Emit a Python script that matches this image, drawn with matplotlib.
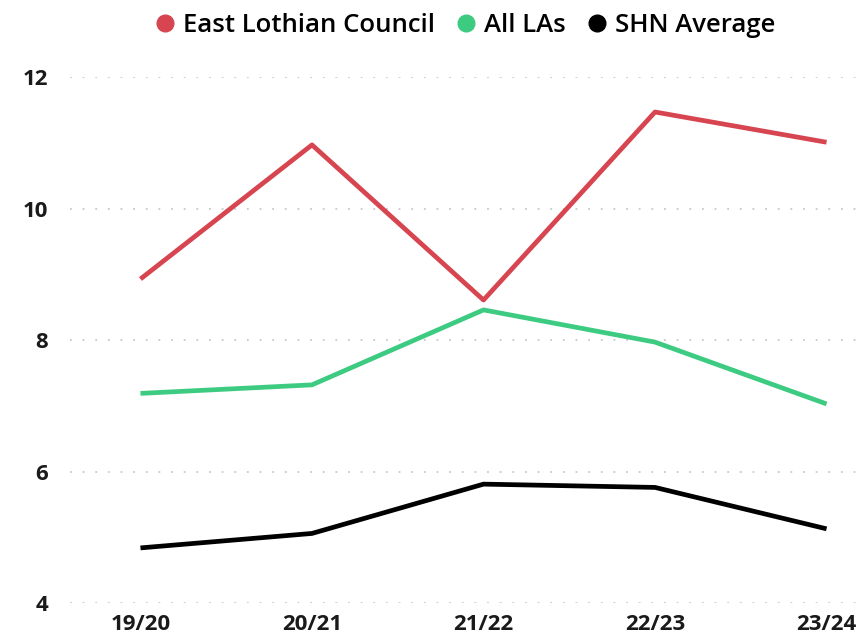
import matplotlib
matplotlib.use("Agg")
import matplotlib.pyplot as plt
from matplotlib.lines import Line2D

# data
years = ["19/20", "20/21", "21/22", "22/23", "23/24"]
east_lothian = [8.93, 10.97, 8.61, 11.47, 11.01]
all_las = [7.19, 7.32, 8.46, 7.97, 7.03]
shn_average = [4.84, 5.06, 5.81, 5.76, 5.13]

series = [
    ("East Lothian Council", east_lothian, "#D64550"),
    ("All LAs", all_las, "#3DCB82"),
    ("SHN Average", shn_average, "#000000"),
]

plt.rcParams["font.family"] = ["Open Sans", "DejaVu Sans"]

fig = plt.figure(figsize=(8.66, 6.43), dpi=100)
ax = fig.add_axes([0.081, 0.062, 0.919, 0.818])

x = list(range(len(years)))
for name, vals, col in series:
    ax.plot(x, vals, color=col, lw=3.4, solid_capstyle="butt", clip_on=False)

ax.set_ylim(4, 12)
ax.set_yticks([4, 6, 8, 10, 12])
ax.set_xlim(-0.41, 4.23)
ax.set_xticks(x)
ax.set_xticklabels(years)

for y in [4, 6, 8, 10, 12]:
    ax.axhline(y, color="#C8C8C8", lw=1.3, ls=(0, (1, 6)), zorder=0)

for s in ax.spines.values():
    s.set_visible(False)
ax.tick_params(length=0, labelsize=16, colors="#1a1a1a")
ax.tick_params(axis="y", pad=16)
ax.tick_params(axis="x", pad=8)
for lab in ax.get_xticklabels() + ax.get_yticklabels():
    lab.set_fontweight("bold")

handles = [Line2D([], [], marker="o", ls="", color=c, markersize=12) for _, _, c in series]
fig.legend(handles, [n for n, _, _ in series], loc="center", bbox_to_anchor=(0.528, 0.96),
           ncol=3, frameon=False, handletextpad=-0.3, columnspacing=0.2,
           prop={"size": 18.5, "weight": "semibold"})

fig.savefig("out.png", dpi=100)
